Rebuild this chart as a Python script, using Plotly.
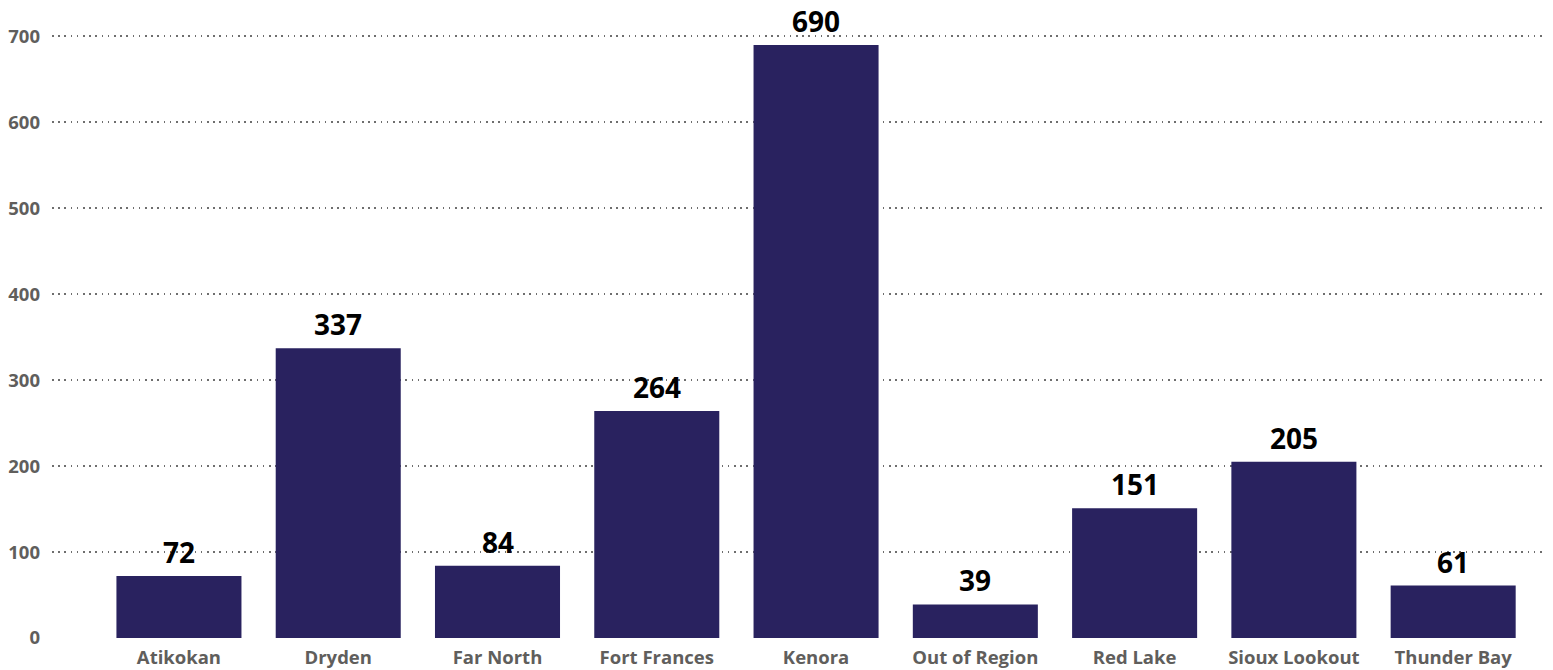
import plotly.graph_objects as go

categories = ["Atikokan", "Dryden", "Far North", "Fort Frances", "Kenora",
              "Out of Region", "Red Lake", "Sioux Lookout", "Thunder Bay"]
values = [72, 337, 84, 264, 690, 39, 151, 205, 61]
y_ticks = [0, 100, 200, 300, 400, 500, 600, 700]

BAR = "#29225F"
GREY = "#605E5C"
FONT = "Open Sans"

fig = go.Figure()
fig.add_trace(go.Bar(
    x=categories, y=values, marker=dict(color=BAR, line=dict(width=0)),
    width=0.785, hoverinfo="skip", cliponaxis=False,
))

for c, v in zip(categories, values):
    fig.add_annotation(x=c, y=v, text=str(v), showarrow=False,
                       yanchor="bottom", yshift=3,
                       font=dict(family=FONT, size=28, color="#000000", weight="bold"))

fig.update_layout(
    width=1545, height=662,
    margin=dict(l=44, r=10, t=27, b=32, autoexpand=False),
    plot_bgcolor="white", paper_bgcolor="white",
    showlegend=False, bargap=0.2,
    font=dict(family=FONT, color=GREY),
)
fig.update_xaxes(
    type="category", range=[-0.797, 8.564], automargin=False,
    showgrid=False, showline=False, zeroline=False, ticks="",
    tickfont=dict(family=FONT, size=18.5, color=GREY, weight="bold"),
    ticklabelstandoff=6,
)
fig.update_yaxes(
    range=[0, 701.5], tickvals=y_ticks, ticktext=[str(t) for t in y_ticks],
    automargin=False,
    showgrid=True, gridcolor="#6e6e6e", griddash="1.5px,4.7px", gridwidth=1.5,
    zeroline=False, showline=False, ticks="",
    tickfont=dict(family=FONT, size=18.5, color=GREY, weight="bold"),
    ticklabelstandoff=11,
)

fig.write_html("out.html")
